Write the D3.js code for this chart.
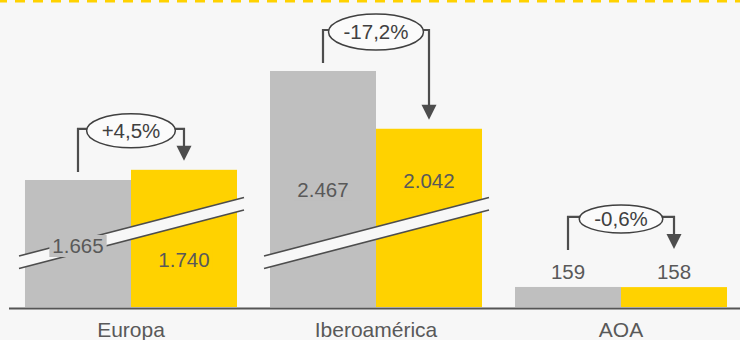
<!DOCTYPE html>
<html>
<head>
<meta charset="utf-8">
<script src="https://cdn.jsdelivr.net/npm/d3@7/dist/d3.min.js"></script>
<style>
  html, body { margin: 0; padding: 0; background: #f7f7f7; }
  svg { display: block; }
</style>
</head>
<body>
<div id="chart"></div>
<script>
// Chart data
var categories = ['Europa', 'Iberoamérica', 'AOA'];
var seriesKeys = ['previo', 'actual'];
var previousValues = [1665, 2467, 159];
var currentValues = [1740, 2042, 158];
var changeLabels = ['+4,5%', '-17,2%', '-0,6%'];

// layout tweaks (pixels) kept apart from the data
var LABEL_OFFSETS = [[66, 90], [119, 52], [-15, -15]]; // label centre below bar top
var ELLIPSE_RY = [17, 18, 14];
var BREAK_AT = 1000;   // values above this are drawn on the broken (upper) scale

var WIDTH = 740, HEIGHT = 340;
var BASE_Y = 307;
var BG = '#f7f7f7';
var COLORS = { previo: '#bfbfbf', actual: '#ffd200' };
var INK = '#4d4d4d';
var TEXT = '#595959';
var FONT = '"Liberation Sans", Arial, sans-serif';

var es = d3.formatLocale({ decimal: ',', thousands: '.', grouping: [3], currency: ['', ' €'] });
var fmt = es.format(',d');

var rows = categories.map(function (c, i) {
  return { cat: c, i: i, values: { previo: previousValues[i], actual: currentValues[i] }, change: changeLabels[i] };
});

var svg = d3.select('#chart').append('svg')
  .attr('width', WIDTH).attr('height', HEIGHT)
  .style('background', BG);

var defs = svg.append('defs');
defs.append('filter').attr('id', 'soft')
  .append('feGaussianBlur').attr('stdDeviation', 1.6);

// top decoration: yellow dashes with a soft grey shadow row
svg.append('line')
  .attr('x1', 0).attr('x2', WIDTH).attr('y1', 6).attr('y2', 6)
  .attr('stroke', '#c8c8c8').attr('stroke-width', 4)
  .attr('stroke-dasharray', '8,10').attr('stroke-dashoffset', -2)
  .attr('filter', 'url(#soft)').attr('opacity', 0.6);
svg.append('line')
  .attr('x1', 0).attr('x2', WIDTH).attr('y1', 1).attr('y2', 1)
  .attr('stroke', '#ffd200').attr('stroke-width', 3)
  .attr('stroke-dasharray', '10,8').attr('stroke-dashoffset', 3);

var x = d3.scaleBand().domain(categories).range([8.5, 743.5])
  .paddingInner(0.1347).paddingOuter(0.0673);
var xs = d3.scaleBand().domain(seriesKeys).range([0, x.bandwidth()]);

// broken value axis: a small-value scale and an upper scale above the break
var yLow = d3.scaleLinear().domain([0, 200]).range([BASE_Y, BASE_Y - 25.2]);
var yHigh = d3.scaleLinear().domain([BREAK_AT, 2500]).range([270.4, 66.5]);
function y(v) { return v >= BREAK_AT ? yHigh(v) : yLow(v); }

var groups = svg.append('g').selectAll('g.group')
  .data(rows).join('g')
  .attr('class', 'group')
  .attr('transform', function (d) { return 'translate(' + x(d.cat) + ',0)'; });

groups.selectAll('rect.bar')
  .data(function (d) { return seriesKeys.map(function (k) { return { k: k, v: d.values[k], g: d }; }); })
  .join('rect')
  .attr('class', 'bar')
  .attr('x', function (d) { return xs(d.k); })
  .attr('width', xs.bandwidth())
  .attr('y', function (d) { return y(d.v); })
  .attr('height', function (d) { return BASE_Y - y(d.v); })
  .attr('fill', function (d) { return COLORS[d.k]; });

// break marks on groups that use the upper scale
groups.filter(function (d) { return d.values.previo >= BREAK_AT; }).each(function () {
  var g = d3.select(this);
  var x0 = -6, x1 = x.bandwidth() + 7;
  var yl = 256, yr = 197.5, t = 12.5;
  g.append('path')
    .attr('d', 'M' + x0 + ',' + yl + 'L' + x1 + ',' + yr + 'L' + x1 + ',' + (yr + t) + 'L' + x0 + ',' + (yl + t) + 'Z')
    .attr('fill', BG);
  [0, t].forEach(function (o) {
    g.append('line')
      .attr('x1', x0).attr('y1', yl + o).attr('x2', x1).attr('y2', yr + o)
      .attr('stroke', INK).attr('stroke-width', 1.6);
  });
});

// value labels
groups.each(function (gd) {
  var g = d3.select(this);
  seriesKeys.forEach(function (k, j) {
    var v = gd.values[k];
    var cx = xs(k) + xs.bandwidth() / 2;
    var cy = y(v) + LABEL_OFFSETS[gd.i][j];
    var inside = v >= BREAK_AT;
    var txt = g.append('text')
      .attr('x', cx).attr('y', cy).attr('dy', '0.36em')
      .attr('text-anchor', 'middle')
      .attr('font-family', FONT).attr('font-size', 20.5)
      .attr('fill', TEXT)
      .text(fmt(v));
    if (inside) {
      var bb = txt.node().getBBox();
      g.insert('rect', function () { return txt.node(); })
        .attr('x', bb.x - 3).attr('y', cy - 11)
        .attr('width', bb.width + 6).attr('height', 22)
        .attr('fill', COLORS[k]);
    }
  });
});

// change annotations: bracket, arrow and ellipse label
groups.each(function (gd) {
  var g = d3.select(this);
  var tops = seriesKeys.map(function (k, j) {
    var v = gd.values[k];
    return v >= BREAK_AT ? y(v) : y(v) + LABEL_OFFSETS[gd.i][j] - 14;
  });
  var lx = xs('previo') + xs.bandwidth() / 2;
  var rx = xs('actual') + xs.bandwidth() / 2;
  var by = d3.min(tops) - 41;
  var tip = tops[1] - 9;
  var head = 15;
  g.append('path')
    .attr('d', 'M' + lx + ',' + (tops[0] - 8) + 'V' + by + 'H' + rx + 'V' + (tip - head + 1))
    .attr('fill', 'none').attr('stroke', INK).attr('stroke-width', 2.2);
  g.append('path')
    .attr('d', 'M' + (rx - 7.5) + ',' + (tip - head) + 'L' + (rx + 7.5) + ',' + (tip - head) + 'L' + rx + ',' + tip + 'Z')
    .attr('fill', INK);
  var label = g.append('text')
    .attr('x', (lx + rx) / 2).attr('y', by + 2).attr('dy', '0.36em')
    .attr('text-anchor', 'middle')
    .attr('font-family', FONT).attr('font-size', 20.5)
    .attr('fill', '#404040')
    .text(gd.change);
  var w = label.node().getComputedTextLength();
  g.insert('ellipse', function () { return label.node(); })
    .attr('cx', (lx + rx) / 2).attr('cy', by + 2)
    .attr('rx', w / 2 + 15).attr('ry', ELLIPSE_RY[gd.i])
    .attr('fill', '#fbfbfb').attr('stroke', '#404040').attr('stroke-width', 1.5);
});

// category axis
var axis = svg.append('g')
  .attr('transform', 'translate(0,' + (BASE_Y + 1) + ')')
  .call(d3.axisBottom(x).tickSize(0).tickPadding(14));
axis.select('.domain').attr('stroke', '#555').attr('stroke-width', 2);
axis.selectAll('text')
  .attr('font-family', FONT)
  .attr('font-size', 21)
  .attr('fill', TEXT);
</script>
</body>
</html>
